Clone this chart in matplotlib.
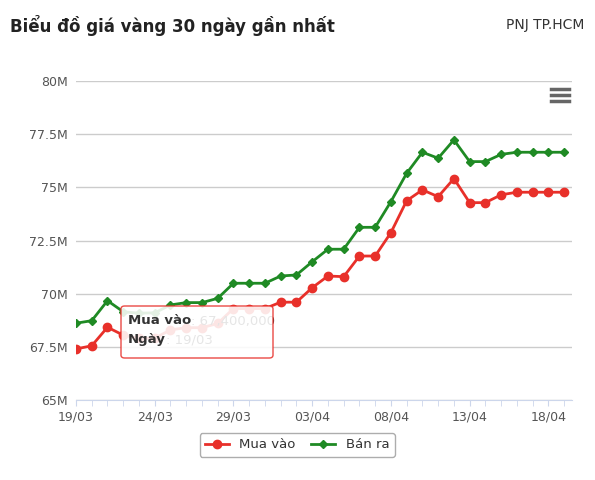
import matplotlib
matplotlib.use("Agg")
import matplotlib.pyplot as plt
from matplotlib.patches import FancyBboxPatch

dates = ["19/03","20/03","21/03","22/03","23/03","24/03","25/03","26/03","27/03","28/03","29/03",
         "30/03","31/03","01/04","02/04","03/04","04/04","05/04","06/04","07/04","08/04","09/04",
         "10/04","11/04","12/04","13/04","14/04","15/04","16/04","17/04","18/04","19/04"]
mua_vao = [67.4,67.55,68.42,68.05,67.9,67.9,68.3,68.4,68.4,68.6,69.3,69.3,69.3,69.6,69.6,
           70.28,70.83,70.8,71.77,71.77,72.87,74.37,74.88,74.56,75.41,74.28,74.28,74.65,74.77,74.77,74.77,74.77]
ban_ra = [68.61,68.73,69.67,69.15,69.08,69.1,69.47,69.58,69.58,69.78,70.49,70.49,70.49,70.83,70.88,
          71.5,72.09,72.09,73.12,73.12,74.33,75.66,76.65,76.37,77.23,76.21,76.21,76.55,76.65,76.65,76.65,76.65]
yticks = [65,67.5,70,72.5,75,77.5,80]
ylabels = ["65M","67.5M","70M","72.5M","75M","77.5M","80M"]

fig = plt.figure(figsize=(5.95,4.8), dpi=100)
ax = fig.add_axes([76/595, 80/480, 496/595, 319/480])
x = list(range(len(dates)))
ax.plot(x, mua_vao, color="#e8302a", marker="o", ms=6, lw=2, label="Mua vào", zorder=3)
ax.plot(x, ban_ra, color="#1f8a24", marker="D", ms=4.5, lw=2, label="Bán ra", zorder=3)
ax.set_xlim(0, len(dates)-1+0.5)
ax.set_ylim(65, 80)
ax.set_yticks(yticks)
ax.set_yticklabels(ylabels, color="#555555", fontsize=9)
ax.set_xticks(x[::5])
ax.set_xticklabels(dates[::5], color="#555555", fontsize=9)
ax.set_xticks(x, minor=True)
ax.tick_params(axis="x", which="both", length=4, color="#ccd6eb")
ax.tick_params(axis="y", length=0, pad=6)
ax.grid(axis="y", color="#cccccc", lw=1)
ax.set_axisbelow(True)
for s in ["top","right","left"]:
    ax.spines[s].set_visible(False)
ax.spines["bottom"].set_color("#ccd6eb")

fig.text(10/595, 1-25/480, "Biểu đồ giá vàng 30 ngày gần nhất", fontsize=12, fontweight="bold", va="center", color="#222222")
fig.text(584/595, 1-25/480, "PNJ TP.HCM", fontsize=10, ha="right", va="center", color="#333333")
for dy in (89, 95, 101):
    fig.add_artist(plt.Line2D([551/595, 569/595], [1-dy/480]*2, color="#666666", lw=2.5))

# tooltip
box = FancyBboxPatch((121/595, 1-358/480), 152/595, 52/480, boxstyle="round,pad=0,rounding_size=0.006",
                     transform=fig.transFigure, fc="white", ec="#e8302a", lw=1, alpha=0.88, zorder=5)
fig.add_artist(box)
t1 = fig.text(128/595, 1-321/480, "Mua vào", fontsize=9.5, fontweight="bold", va="center", color="#333333", zorder=6)
fig.texts.append(None) if False else None
a1 = plt.annotate(": 67,400,000", xy=(1, 0.5), xycoords=t1, va="center", ha="left", fontsize=9.5,
                  color="#333333", zorder=6, annotation_clip=False)
t2 = fig.text(128/595, 1-340/480, "Ngày", fontsize=9.5, fontweight="bold", va="center", color="#333333", zorder=6)
a2 = plt.annotate(": 19/03", xy=(1, 0.5), xycoords=t2, va="center", ha="left", fontsize=9.5,
                  color="#333333", zorder=6, annotation_clip=False)

leg = fig.legend(loc="center", bbox_to_anchor=(297/595, 1-445/480), ncol=2, fontsize=9.5,
                 frameon=True, edgecolor="#999999", fancybox=True, handlelength=1.8, columnspacing=1.2)
for t in leg.get_texts():
    t.set_color("#333333")
fig.savefig("out.png", dpi=100)
